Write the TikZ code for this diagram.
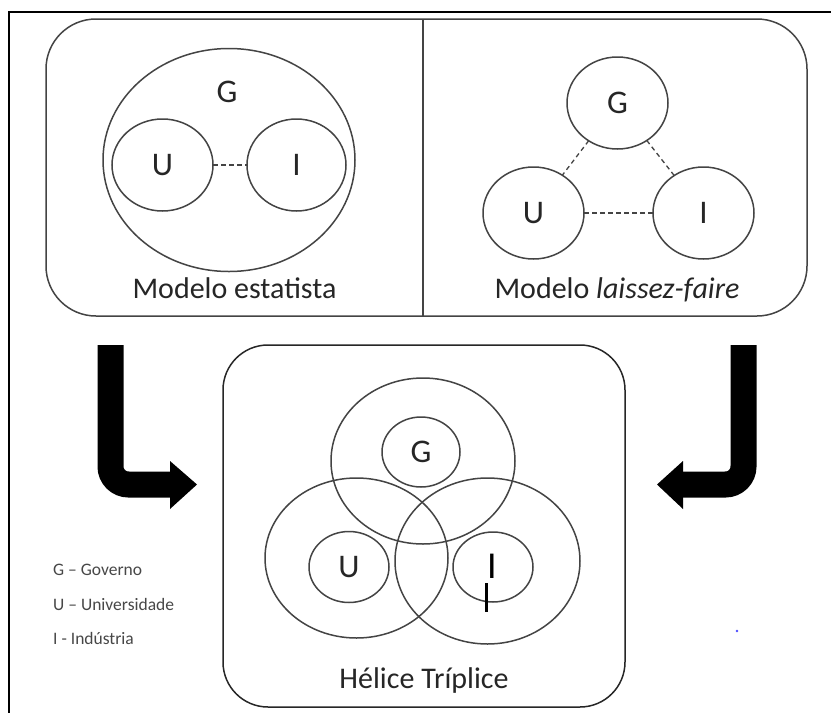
\documentclass[tikz,border=0pt]{standalone}
\usepackage{fontspec}
\setmainfont{Carlito}
\usetikzlibrary{shapes.geometric}
\definecolor{ln}{HTML}{444444}
\definecolor{tx}{HTML}{262626}
\begin{document}
\begin{tikzpicture}[x=1pt,y=-1pt,
  frame/.style={draw=ln, line width=1.5pt},
  ell/.style={ellipse, draw=ln, line width=1.5pt, inner sep=0pt, outer sep=0pt,
              text=tx, font=\fontsize{33}{36}\selectfont},
  lbl/.style={text=tx, font=\fontsize{33}{36}\selectfont, inner sep=0pt},
  captxt/.style={text=tx, font=\fontsize{30}{34}\selectfont, inner sep=0pt, anchor=base},
  leg/.style={text=tx!85, font=\fontsize{17.5}{20}\selectfont, anchor=base west, inner sep=0pt},
  dsh/.style={draw=ln, line width=1.3pt, dash pattern=on 4.5pt off 3.5pt},
  bigarrow/.style={line width=26pt, black, rounded corners=18pt, line cap=butt},
]
\useasboundingbox (0,0) rectangle (831,713);
\fill[white] (0,0) rectangle (831,713);

% outer frame (left and top edges visible)
\draw[black, line width=2pt, line join=miter] (9,713) -- (9,12) -- (831,12);

% top box
\node[frame, rounded corners=50pt, minimum width=761pt, minimum height=297pt, inner sep=0pt] (topbox) at (426.5,167.5) {};
\draw[frame] (423,19) -- (423,316);

% statist model
\node[ell, minimum width=252pt, minimum height=223pt] (Gs) at (229,160) {};
\node[lbl] (Gst) at (227,92) {G};
\node[ell, minimum width=101pt, minimum height=92pt] (Us) at (162.5,165) {U};
\node[ell, minimum width=99pt, minimum height=92pt] (Is) at (296.5,165) {I};
\draw[dsh] (Us) -- (Is);
\node[captxt] (cs) at (234.5,298) {Modelo estatista};

% laissez-faire model
\node[ell, minimum width=101pt, minimum height=92pt] (Gl) at (617.5,103) {G};
\node[ell, minimum width=101pt, minimum height=92pt] (Ul) at (533.5,213) {U};
\node[ell, minimum width=101pt, minimum height=92pt] (Il) at (703.5,213) {I};
\draw[dsh] (Gl) -- (Ul);
\draw[dsh] (Gl) -- (Il);
\draw[dsh] (Ul) -- (Il);
\node[captxt] (cl) at (617,298) {Modelo \textit{laissez-faire}};

% bottom box
\node[frame, draw=black!85, rounded corners=45pt, minimum width=402pt, minimum height=362pt, inner sep=0pt] (botbox) at (424,526) {};

% triple helix
\node[ell, minimum width=184pt, minimum height=166pt] (Gh) at (423,461) {};
\node[ell, minimum width=183pt, minimum height=160pt] (Uh) at (356.5,558) {};
\node[ell, minimum width=185pt, minimum height=166pt] (Ih) at (487.5,561) {};
\node[ell, minimum width=78pt, minimum height=70pt] (Ghi) at (421,452) {G};
\node[ell, minimum width=80pt, minimum height=71pt] (Uhi) at (349,567) {};
\node[lbl] (Uht) at (349,567) {U};
\node[ell, minimum width=80pt, minimum height=70pt] (Ihi) at (493,567) {};
\node[lbl, text=black, font=\fontsize{38}{40}\selectfont] (Iht) at (492,566) {I};
\draw[black, line width=3pt] (486,583) -- (486,612);
\node[captxt] (ch) at (424,688) {Hélice Tríplice};

% arrows
\draw[bigarrow] (110.5,345) -- (110.5,484.5) -- (171,484.5);
\fill[black] (170,461) -- (197,484.5) -- (170,509) -- cycle;
\draw[bigarrow] (743.5,345) -- (743.5,484.5) -- (682,484.5);
\fill[black] (683,461) -- (657,484.5) -- (683,509) -- cycle;

% legend
\node[leg] (lg) at (53,575) {G – Governo};
\node[leg] (lu) at (53,610) {U – Universidade};
\node[leg] (li) at (53,644) {I - Indústria};

% stray blue dot
\fill[blue!70] (737,631) circle (1.3pt);
\end{tikzpicture}
\end{document}
